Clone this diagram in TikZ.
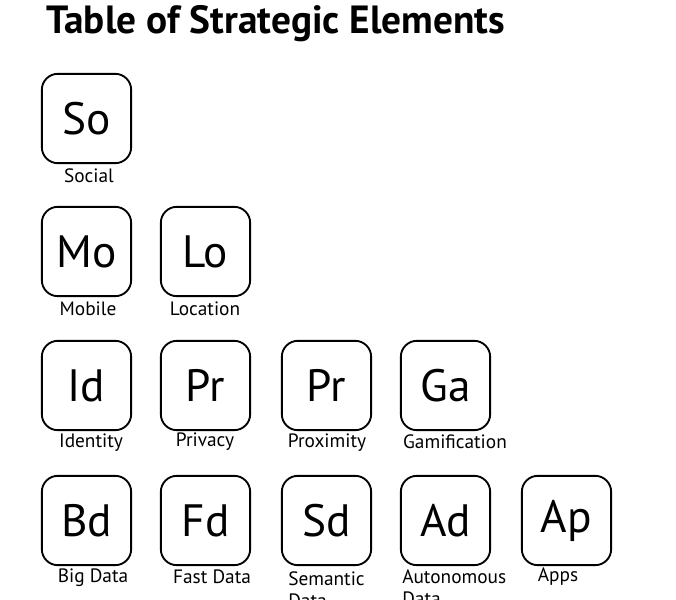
\documentclass[tikz,border=0pt]{standalone}
\usepackage{fontspec}
\setmainfont{PT Sans}
\usetikzlibrary{positioning}

\begin{document}
\begin{tikzpicture}[x=0.75pt, y=-0.75pt,
  elem/.style={rectangle, rounded corners=12pt, draw=black, line width=1.4pt,
               minimum width=67pt, minimum height=67pt, inner sep=0pt,
               font=\fontsize{34}{34}\selectfont},
  elab/.style={font=\fontsize{14.5}{16.5}\selectfont, align=left, inner sep=0pt},
  ttl/.style={font=\fontsize{29.5}{29.5}\selectfont\bfseries, inner sep=0pt}
]
\useasboundingbox (0,0) rectangle (676,600);
\clip (0,0) rectangle (676,600);

% Title
\node[ttl, anchor=base west] (title) at (46,33) {Table of Strategic Elements};

% Row 1
\node[elem] (so) at (86.5,118.5) {So};
\node[elab] (solab) at (89,176) {Social};

% Row 2
\node[elem] (mo) at (86.5,251.5) {Mo};
\node[elab] (molab) at (88,309) {Mobile};
\node[elem] (lo) at (205.5,251.5) {Lo};
\node[elab] (lolab) at (205,309) {Location};

% Row 3
\node[elem] (id) at (86.5,385.5) {Id};
\node[elab] (idlab) at (91,443) {Identity};
\node[elem] (pv) at (205.5,385.5) {Pr};
\node[elab] (pvlab) at (205,442) {Privacy};
\node[elem] (px) at (326.5,385.5) {Pr};
\node[elab] (pxlab) at (327,443) {Proximity};
\node[elem] (ga) at (445.5,385.5) {Ga};
\node[elab] (galab) at (455,442) {Gamification};

% Row 4
\node[elem] (bd) at (86.5,520.5) {Bd};
\node[elab] (bdlab) at (93,578) {Big Data};
\node[elem] (fd) at (205.5,520.5) {Fd};
\node[elab] (fdlab) at (212,577) {Fast Data};
\node[elem] (sd) at (326.5,520.5) {Sd};
\node[elab, anchor=north west] (sdlab) at (288,571) {Semantic\\Data};
\node[elem] (ad) at (445.5,520.5) {Ad};
\node[elab, anchor=north west] (adlab) at (402,569) {Autonomous\\Data};
\node[elem] (ap) at (566.5,520.5) {Ap};
\node[elab] (aplab) at (558,577) {Apps};
\end{tikzpicture}
\end{document}
